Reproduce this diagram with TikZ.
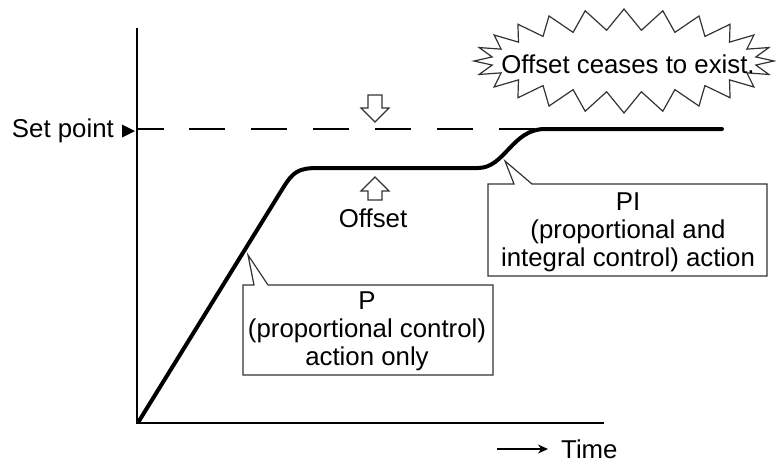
\documentclass[tikz,border=0pt]{standalone}
\usepackage{fontspec}
\setmainfont{Liberation Sans}
\usetikzlibrary{arrows.meta}
\begin{document}
\begin{tikzpicture}[x=1pt,y=-1pt,
  every node/.style={font=\fontsize{25.8}{28}\selectfont, inner sep=0pt},
  axis/.style={line width=1.6pt},
  resp/.style={line width=4pt, line cap=round, line join=round},
  callout/.style={draw=black!80, line width=1.2pt, fill=white},
  hollowarrow/.style={draw=black!80, line width=1.2pt, fill=white, line join=miter}]
\useasboundingbox (0,0) rectangle (776,464);
% axes
\coordinate (O) at (137,423);
\coordinate (Ytop) at (137,28);
\coordinate (Xend) at (604,423);
\draw[axis] (Ytop) -- (O) -- (Xend);
% set point
\node[anchor=east] (sp) at (114,131) {Set point};
\fill (122,124.5) -- (135,131) -- (122,137.5) -- cycle;
\coordinate (dashstart) at (137,129);
\coordinate (dashend) at (722,129);
\draw[line width=1.3pt, dash pattern=on 27pt off 25pt on 36pt off 26pt on 36pt off 26pt on 36pt off 26pt on 36pt off 26pt on 36pt off 26pt on 36pt off 26pt on 36pt off 26pt on 36pt off 26pt on 36pt off 26pt on 36pt off 26pt] (dashstart) -- (dashend);
% response curve
\draw[resp] (139,421) -- (283,188) .. controls (293,172) and (298,168) .. (318,168)
  -- (478,168) .. controls (505,168) and (512,129) .. (545,129) -- (722,129);
% offset arrows
\draw[hollowarrow] (368,95) -- (382,95) -- (382,108) -- (389,108) -- (375,122) -- (361,108) -- (368,108) -- cycle;
\draw[hollowarrow] (368,200) -- (382,200) -- (382,191) -- (389,191) -- (375,177) -- (361,191) -- (368,191) -- cycle;
\node (offset) at (373,218) {Offset};
% burst
\draw[line width=1.2pt, draw=black!80, line join=miter] (774,61)
  \foreach \i in {0,...,23}{ -- ({624+133*cos((\i+0.5)*360/24)},{61-31*sin((\i+0.5)*360/24)})
   -- ({624+150*cos((\i+1)*360/24)},{61-52*sin((\i+1)*360/24)}) } -- cycle;
\node (burst) at (628,64) {Offset ceases to exist.};
% PI callout
\draw[callout] (488,184) -- (514,184) -- (505,161) -- (532,184) -- (767,184) -- (767,276) -- (488,276) -- cycle;
\node[align=center] (pi) at (628,232) {PI\\(proportional and\\integral control) action};
% P callout
\draw[callout] (243,285) -- (254,285) -- (248,255) -- (268,285) -- (493,285) -- (493,375) -- (243,375) -- cycle;
\node[align=center] (p) at (367,331) {P\\(proportional control)\\action only};
% time
\node[anchor=west] (time) at (561,449) {Time};
\coordinate (ta) at (497,449);
\draw[line width=1.3pt, -{Stealth[length=10pt,width=9pt]}, shorten >=13pt] (ta) -- (time.west);
\end{tikzpicture}
\end{document}
